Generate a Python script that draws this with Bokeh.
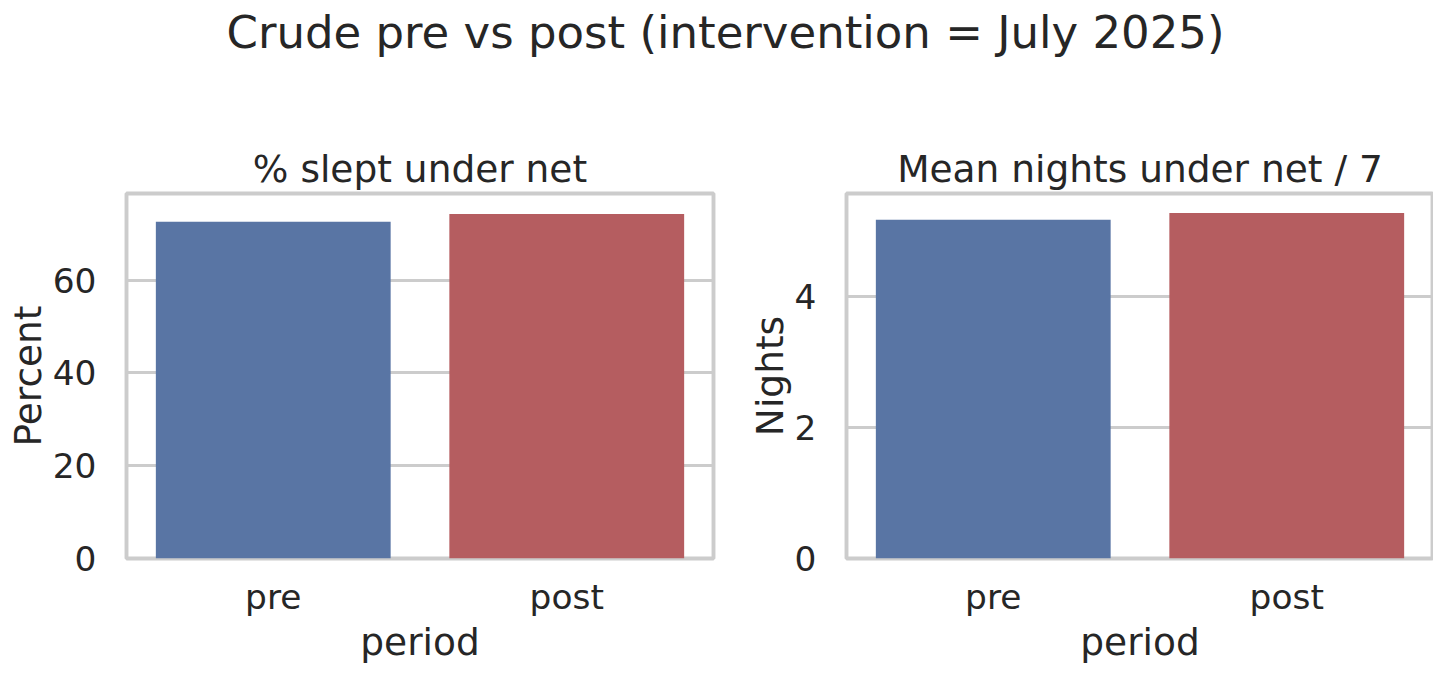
from bokeh.plotting import figure
from bokeh.models import Div, Range1d, FixedTicker
from bokeh.layouts import column, row
from bokeh.embed import file_html
from bokeh.resources import INLINE

periods = ["pre", "post"]
pct_slept = [72.6, 74.3]
mean_nights = [5.18, 5.28]
pct_ticks = [0, 20, 40, 60]
night_ticks = [0, 2, 4]
bar_colors = ["#5975a4", "#b55d60"]

FONT = "DejaVu Sans"
TXT = "#262626"
GRID = "#cccccc"


def make_panel(title, values, ymax, ticks, ylabel, mb_left, mb_right):
    p = figure(x_range=periods, y_range=Range1d(0, ymax),
               width=mb_left + 587 + mb_right, height=104 + 365 + 108,
               min_border_left=mb_left, min_border_right=mb_right,
               min_border_top=104, min_border_bottom=108,
               output_backend="svg", toolbar_location=None,
               title=title)
    p.vbar(x=periods, top=values, width=0.8, color=bar_colors, line_color=None)
    p.x_range.range_padding = 0
    p.title.text_font = FONT
    p.title.text_font_size = "37.5px"
    p.title.text_font_style = "normal"
    p.title.text_color = TXT
    p.title.align = "center"
    p.title.standoff = 6
    p.outline_line_color = GRID
    p.outline_line_width = 3.9
    p.xgrid.visible = False
    p.ygrid.grid_line_color = GRID
    p.ygrid.grid_line_width = 3.1
    p.yaxis.ticker = FixedTicker(ticks=ticks)
    p.yaxis.axis_label = ylabel
    p.xaxis.axis_label = "period"
    for ax in (p.xaxis, p.yaxis):
        ax.axis_line_color = None
        ax.major_tick_line_color = None
        ax.minor_tick_line_color = None
        ax.major_tick_out = 0
        ax.major_tick_in = 0
        ax.major_label_text_font = FONT
        ax.major_label_text_font_size = "34.4px"
        ax.major_label_text_color = TXT
        ax.axis_label_text_font = FONT
        ax.axis_label_text_font_size = "37.5px"
        ax.axis_label_text_font_style = "normal"
        ax.axis_label_text_color = TXT
    p.yaxis.major_label_standoff = 30
    p.yaxis.axis_label_standoff = 0
    p.xaxis.major_label_standoff = 18
    p.xaxis.axis_label_standoff = 0
    p.background_fill_color = "white"
    p.border_fill_color = "white"
    return p


p1 = make_panel("% slept under net", pct_slept, 78.7, pct_ticks, "Percent", 126, 20)
p2 = make_panel("Mean nights under net / 7", mean_nights, 5.58, night_ticks, "Nights", 113, 0)

sup = Div(text='<div style="font-family: \'DejaVu Sans\'; font-size: 45px; color: #262626; '
               'text-align: center; width: 1433px; padding-left: 8px; box-sizing: border-box; '
               'line-height: 56px;">'
               'Crude pre vs post (intervention = July 2025)</div>',
          width=1433, height=79)

layout = column(sup, row(p1, p2, spacing=0), spacing=0)
open("out.html", "w").write(file_html(layout, INLINE))
